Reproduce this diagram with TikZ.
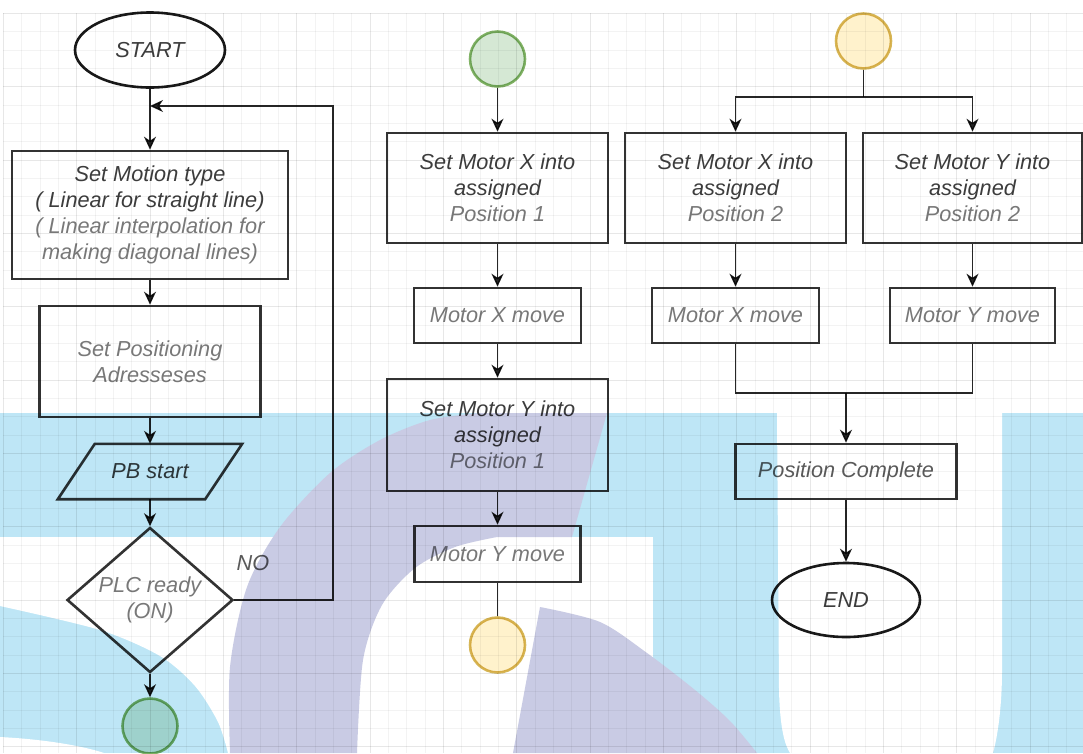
\documentclass[tikz,border=0pt]{standalone}
\usepackage{fontspec}
\setmainfont{Liberation Sans}
\usetikzlibrary{arrows.meta,shapes.geometric,calc}

\definecolor{wmblue}{HTML}{BEE6F6}
\definecolor{wmpurple}{HTML}{C9CBE4}
\definecolor{tdark}{HTML}{3C3C3C}
\definecolor{tmid}{HTML}{5A5A5A}
\definecolor{tlight}{HTML}{787878}
\definecolor{boxline}{HTML}{333333}
\definecolor{gridminor}{HTML}{F3F3F3}
\definecolor{gridmajor}{HTML}{E7E7E7}
\definecolor{greenfill}{HTML}{D5E8D4}
\definecolor{greenline}{HTML}{82B366}
\definecolor{yellowfill}{HTML}{FFF2CC}
\definecolor{yellowline}{HTML}{D6B656}

\begin{document}
\begin{tikzpicture}[x=1pt,y=-1pt,
  lbl/.style={font=\fontsize{21.7}{26}\selectfont\itshape, align=center, inner sep=0pt},
  procbox/.style={lbl, draw=boxline, line width=2.6pt},
  terminal/.style={lbl, ellipse, draw=black!90, line width=2.6pt, text=tdark},
  greendot/.style={circle, draw=greenline, fill=greenfill, line width=2.6pt, minimum size=55pt, inner sep=0pt},
  yellowdot/.style={circle, draw=yellowline, fill=yellowfill, line width=2.6pt, minimum size=55pt, inner sep=0pt},
  flow/.style={draw=black!85, line width=1.4pt},
  arr/.style={flow, -{Stealth[length=13pt,width=12pt,inset=4pt]}},
  gminor/.style={draw=gridminor, line width=0.7pt},
  gmajor/.style={draw=gridmajor, line width=0.7pt}
]
\useasboundingbox (0,0) rectangle (1083,753);
\clip (0,0) rectangle (1083,753);

% ---------- background logo ----------
\fill[wmblue] (0,413) rectangle (1083,753);
\fill[white] (777,413) -- (779,690) .. controls (780,730) and (785,745) .. (790,753)
  -- (993,753) .. controls (998,735) and (1002,705) .. (1002,670) -- (1002,413) -- cycle;
\fill[white] (0,537) -- (320,537) -- (320,753)
  -- plot[smooth] coordinates {(228,753) (218,722) (195,686) (160,656) (100,630) (0,606)} -- cycle;
\fill[white] (0,737) .. controls (40,739) and (80,745) .. (104,753) -- (0,753) -- cycle;
\fill[white] (340,537) rectangle (653,753);
\fill[wmpurple] plot[smooth] coordinates {(230,753) (230,667) (247,587) (280,527) (330,473) (380,440) (430,420) (480,413)}
  -- (607,413) -- (572,537) -- (497,537)
  -- plot[smooth] coordinates {(497,537) (455,547) (415,568) (382,605) (363,660) (357,753)} -- cycle;
\fill[wmpurple] plot[smooth] coordinates {(540,607) (600,622) (647,653) (695,690) (730,721) (757,753)}
  -- (513,753) -- cycle;

\begin{scope}[blend mode=multiply]
% ---------- grid ----------
\foreach \i in {0,...,59} {
  \pgfmathsetmacro\gx{3.3+18.3333*\i}
  \pgfmathtruncatemacro\gm{mod(\i,4)}
  \ifnum\gm=0 \draw[gmajor] (\gx,13.3) -- (\gx,753); \else \draw[gminor] (\gx,13.3) -- (\gx,753); \fi
}
\foreach \j in {0,...,40} {
  \pgfmathsetmacro\gy{13.3+18.3333*\j}
  \pgfmathtruncatemacro\gm{mod(\j,4)}
  \ifnum\gm=0 \draw[gmajor] (3.3,\gy) -- (1083,\gy); \else \draw[gminor] (3.3,\gy) -- (1083,\gy); \fi
}

% ---------- left column ----------
\node[terminal, minimum width=150pt, minimum height=75pt] (start) at (150,50) {START};
\node[procbox, minimum width=276pt, minimum height=128pt] (motion) at (150,215)
  {\textcolor{tdark}{Set Motion type}\\\textcolor{tdark}{( Linear for straight line)}\\
   \textcolor{tlight}{( Linear interpolation for}\\\textcolor{tlight}{making diagonal lines)}};
\node[procbox, text=tlight, minimum width=221pt, minimum height=111pt] (posn) at (150,361.5)
  {Set Positioning\\Adresseses};
\node[lbl, text=tdark, minimum width=147pt, minimum height=55pt] (pb) at (150,471.5) {PB start};
\draw[draw=boxline, line width=2.6pt] ([xshift=18.5pt]pb.north west) -- ([xshift=18.5pt]pb.north east)
  -- ([xshift=-18.5pt]pb.south east) -- ([xshift=-18.5pt]pb.south west) -- cycle;
\node[lbl, diamond, draw=boxline, line width=2.6pt, shape aspect=1.145, text=tlight,
  minimum width=166pt, minimum height=145pt] (plc) at (150,600) {PLC ready\\(ON)};
\node[lbl, text=tmid] (nolbl) at (253,563) {NO};
\node[greendot] (gc1) at (150,726) {};

\coordinate (loopturn) at (333,106);
\coordinate (loopin) at (150,106);

\draw[arr] (start) -- (motion);
\draw[arr] (motion) -- (posn);
\draw[arr] (posn) -- (pb);
\draw[arr] (pb.south) -- (plc.north);
\draw[arr] (plc.south) -- (gc1.north);
\draw[arr] (plc.east) -| (loopturn) -- (loopin);

% ---------- middle column ----------
\node[greendot] (gc2) at (497.5,59) {};
\node[procbox, minimum width=221pt, minimum height=110pt] (setx1) at (497.5,188)
  {\textcolor{tdark}{Set Motor X into}\\\textcolor{tdark}{assigned}\\\textcolor{tlight}{Position 1}};
\node[procbox, text=tlight, minimum width=167pt, minimum height=55pt] (movx1) at (497.5,315.5) {Motor X move};
\node[procbox, minimum width=221pt, minimum height=112pt] (sety1) at (497.5,435)
  {\textcolor{tdark}{Set Motor Y into}\\\textcolor{tdark}{assigned}\\\textcolor{tlight}{Position 1}};
\node[procbox, text=tlight, minimum width=166pt, minimum height=56pt] (movy1) at (497.5,554) {Motor Y move};
\node[yellowdot] (yc1) at (497.5,645) {};

\draw[arr] (gc2) -- (setx1);
\draw[arr] (setx1) -- (movx1);
\draw[arr] (movx1) -- (sety1);
\draw[arr] (sety1) -- (movy1);
\draw[flow] (movy1) -- (yc1);

% ---------- right columns ----------
\node[yellowdot] (yc2) at (863.5,41) {};
\node[procbox, minimum width=221pt, minimum height=110pt] (setx2) at (735.5,188)
  {\textcolor{tdark}{Set Motor X into}\\\textcolor{tdark}{assigned}\\\textcolor{tlight}{Position 2}};
\node[procbox, minimum width=219pt, minimum height=110pt] (sety2) at (972.5,188)
  {\textcolor{tdark}{Set Motor Y into}\\\textcolor{tdark}{assigned}\\\textcolor{tlight}{Position 2}};
\node[procbox, text=tlight, minimum width=167pt, minimum height=55pt] (movx2) at (735.5,315.5) {Motor X move};
\node[procbox, text=tlight, minimum width=165pt, minimum height=55pt] (movy2) at (972.5,315.5) {Motor Y move};
\node[procbox, text=tmid, minimum width=221pt, minimum height=55pt] (poscomp) at (846,471.5) {Position Complete};
\node[terminal, minimum width=148pt, minimum height=74pt] (endn) at (846,600) {END};

\coordinate (split) at (863.5,97);
\coordinate (merge) at (846,393);

\draw[flow] (yc2) -- (split);
\draw[arr] (split) -| (setx2.north);
\draw[arr] (split) -| (sety2.north);
\draw[arr] (setx2) -- (movx2);
\draw[arr] (sety2) -- (movy2);
\draw[flow] (movx2.south) |- (merge) -| (movy2.south);
\draw[arr] (merge) -- (poscomp.north);
\draw[arr] (poscomp) -- (endn);
\end{scope}
\end{tikzpicture}
\end{document}
